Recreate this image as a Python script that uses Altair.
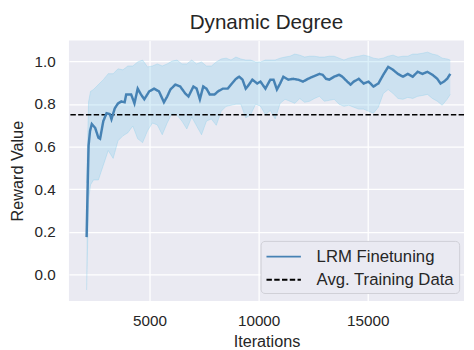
import altair as alt
import pandas as pd

# ---- data ----
mean_iter = [2120, 2165, 2210, 2277, 2358, 2512, 2660, 2737, 2885, 3034, 3187, 3259, 3412, 3560,
             3709, 3862, 3934, 4159, 4312, 4460, 4609, 4762, 4987, 5212, 5437, 5662, 5810, 5959,
             6184, 6409, 6634, 6787, 7012, 7160, 7309, 7462, 7610, 7759, 7984, 8137, 8362, 8587,
             8735, 8960, 9109, 9262, 9410, 9559, 9712, 9937, 10085, 10310, 10535, 10684, 10837,
             10985, 11134, 11359, 11584, 11809, 12034, 12259, 12484, 12785, 12934, 13087, 13235,
             13460, 13685, 13834, 14059, 14212, 14360, 14585, 14810, 15035, 15260, 15485, 15710,
             15935, 16160, 16385, 16610, 16835, 17060, 17285, 17510, 17735, 17960, 18185, 18334,
             18487, 18635, 18780]
mean_val = [0.176, 0.398, 0.605, 0.674, 0.706, 0.688, 0.642, 0.637, 0.720, 0.757, 0.752, 0.729,
            0.780, 0.803, 0.812, 0.808, 0.845, 0.845, 0.803, 0.872, 0.845, 0.822, 0.859, 0.872,
            0.859, 0.808, 0.835, 0.868, 0.891, 0.882, 0.850, 0.835, 0.882, 0.872, 0.822, 0.882,
            0.872, 0.845, 0.845, 0.859, 0.872, 0.872, 0.891, 0.918, 0.928, 0.914, 0.872, 0.891,
            0.914, 0.896, 0.905, 0.872, 0.914, 0.914, 0.868, 0.896, 0.928, 0.914, 0.918, 0.914,
            0.905, 0.918, 0.928, 0.941, 0.937, 0.918, 0.914, 0.928, 0.937, 0.928, 0.905, 0.891,
            0.905, 0.918, 0.896, 0.905, 0.882, 0.896, 0.937, 0.974, 0.960, 0.941, 0.928, 0.941,
            0.928, 0.951, 0.941, 0.951, 0.937, 0.918, 0.896, 0.905, 0.918, 0.941]

band_iter = [2120, 2210, 2300, 2435, 2660, 2885, 3110, 3335, 3560, 3785, 4010, 4235, 4460, 4685,
             4910, 5135, 5360, 5585, 5810, 6035, 6260, 6485, 6710, 6935, 7160, 7385, 7610, 7835,
             8060, 8285, 8510, 8735, 8960, 9185, 9410, 9635, 9860, 10085, 10310, 10535, 10760,
             10985, 11210, 11435, 11660, 11885, 12110, 12335, 12560, 12785, 13010, 13235, 13460,
             13685, 13910, 14135, 14360, 14585, 14810, 15035, 15260, 15485, 15710, 15935, 16160,
             16385, 16610, 16835, 17060, 17285, 17510, 17735, 17960, 18185, 18410, 18635, 18780]
band_high = [0.430, 0.810, 0.859, 0.868, 0.891, 0.914, 0.942, 0.942, 0.965, 0.960, 0.978, 0.978,
             0.997, 1.006, 0.974, 0.978, 0.988, 0.978, 0.988, 1.001, 1.006, 0.988, 0.988, 1.006,
             0.988, 0.997, 0.978, 0.978, 0.997, 1.011, 1.015, 1.006, 1.020, 1.011, 1.006, 1.006,
             0.997, 0.997, 1.006, 1.006, 1.006, 1.015, 1.020, 1.024, 1.034, 1.029, 1.020, 1.024,
             1.024, 1.020, 1.020, 1.024, 1.024, 1.015, 1.006, 1.015, 1.020, 1.024, 1.029, 1.024,
             1.015, 1.011, 1.015, 1.024, 1.029, 1.020, 1.024, 1.024, 1.034, 1.034, 1.038, 1.043,
             1.034, 1.029, 1.015, 1.011, 1.006]
band_low = [-0.072, 0.352, 0.421, 0.444, 0.444, 0.513, 0.582, 0.545, 0.628, 0.651, 0.665, 0.697,
            0.637, 0.619, 0.674, 0.711, 0.702, 0.656, 0.711, 0.757, 0.748, 0.720, 0.683, 0.739,
            0.697, 0.656, 0.720, 0.730, 0.700, 0.766, 0.789, 0.794, 0.799, 0.799, 0.735, 0.750,
            0.799, 0.790, 0.750, 0.770, 0.730, 0.803, 0.822, 0.813, 0.803, 0.826, 0.808, 0.813,
            0.826, 0.836, 0.813, 0.817, 0.822, 0.799, 0.789, 0.794, 0.785, 0.776, 0.776, 0.766,
            0.757, 0.785, 0.849, 0.868, 0.849, 0.826, 0.822, 0.831, 0.826, 0.836, 0.840, 0.845,
            0.826, 0.813, 0.794, 0.822, 0.845]

ref_value = 0.75
series_names = ["LRM Finetuning", "Avg. Training Data"]
x_ticks = [5000, 10000, 15000]
y_ticks = [0.0, 0.2, 0.4, 0.6, 0.8, 1.0]
x_domain = [1310, 19410]
y_domain = [-0.123, 1.098]

# ---- tables ----
mean_df = pd.DataFrame({"iter": mean_iter, "val": mean_val, "series": series_names[0]})
band_df = pd.DataFrame({"iter": band_iter, "low": band_low, "high": band_high})
ref_df = pd.DataFrame({"val": [ref_value], "series": [series_names[1]]})

FONT = "Liberation Sans"
TXT = "#262626"

xscale = alt.Scale(domain=x_domain, nice=False, zero=False)
yscale = alt.Scale(domain=y_domain, nice=False, zero=False)

xaxis = alt.Axis(values=x_ticks, title="Iterations", format="d", labelPadding=13, titlePadding=5)
yaxis = alt.Axis(values=y_ticks, title="Reward Value", format=".1f", labelPadding=14, titlePadding=9)

color_scale = alt.Scale(domain=series_names, range=["#4682B4", "#000000"])
dash_scale = alt.Scale(domain=series_names, range=[[1, 0], [5.5, 2.4]])
leg = alt.Legend(title=None, orient="none", legendX=195, legendY=204,
                 symbolType="M-1,0L2.5,0", symbolSize=400, symbolStrokeWidth=1.8,
                 labelFont=FONT, labelFontSize=17, labelColor=TXT, labelOffset=30,
                 rowPadding=4.5, padding=5, fillColor="#EAEAF2", strokeColor="#cfcfd6",
                 cornerRadius=4)

band = alt.Chart(band_df).mark_area(color="#87CEEB", opacity=0.3).encode(
    x=alt.X("iter:Q", scale=xscale, axis=xaxis),
    y=alt.Y("low:Q", scale=yscale, axis=yaxis),
    y2="high:Q",
)
edge_hi = alt.Chart(band_df).mark_line(color="#87CEEB", opacity=0.35, strokeWidth=1).encode(
    x="iter:Q", y="high:Q")
edge_lo = alt.Chart(band_df).mark_line(color="#87CEEB", opacity=0.35, strokeWidth=1).encode(
    x="iter:Q", y="low:Q")

line = alt.Chart(mean_df).mark_line(strokeWidth=2.5).encode(
    x="iter:Q",
    y="val:Q",
    color=alt.Color("series:N", scale=color_scale, legend=leg),
    strokeDash=alt.StrokeDash("series:N", scale=dash_scale, legend=leg),
)
rule = alt.Chart(ref_df).mark_rule(strokeWidth=1.5).encode(
    y="val:Q",
    color=alt.Color("series:N", scale=color_scale, legend=leg),
    strokeDash=alt.StrokeDash("series:N", scale=dash_scale, legend=leg),
)

chart = alt.layer(band, edge_hi, edge_lo, rule, line).properties(
    width=402,
    height=265,
    autosize=alt.AutoSizeParams(type="none"),
    padding={"left": 62, "top": 30, "right": 2, "bottom": 48},
    title=alt.TitleParams("Dynamic Degree", font=FONT, fontSize=21, fontWeight="normal",
                          color=TXT, offset=8),
).configure_view(
    fill="#EAEAF2", stroke=None
).configure_axis(
    domain=False, ticks=False, grid=True, gridColor="#FFFFFF", gridWidth=1.3,
    labelFont=FONT, labelFontSize=15.5, labelColor=TXT,
    titleFont=FONT, titleFontSize=16.5, titleColor=TXT, titleFontWeight="normal",
)

chart.save("out.html", embed_options={"renderer": "svg", "actions": False})
